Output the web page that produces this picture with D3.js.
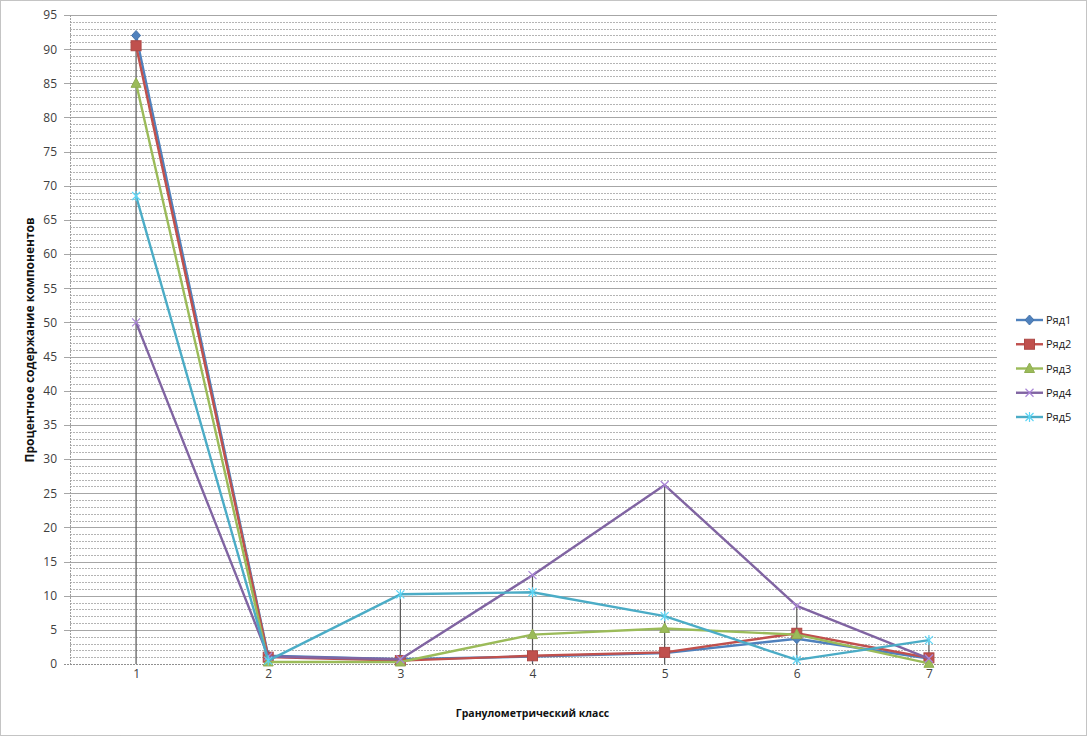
<!DOCTYPE html>
<html><head><meta charset="utf-8">
<script src="https://cdn.jsdelivr.net/npm/d3@7"></script>
<style>body{margin:0;background:#fff}svg{display:block}</style>
</head><body>
<svg id="c" width="1087" height="736"></svg>
<script>
const categories = [1, 2, 3, 4, 5, 6, 7];
const seriesNames = ["Ряд1", "Ряд2", "Ряд3", "Ряд4", "Ряд5"];
const ser1 = [92, 1.2, 0.7, 1.1, 1.6, 3.7, 0.8];
const ser2 = [90.5, 1.0, 0.5, 1.2, 1.7, 4.5, 0.9];
const ser3 = [85, 0.3, 0.3, 4.3, 5.2, 4.3, 0.1];
const ser4 = [50, 1.1, 0.7, 13, 26.2, 8.5, 0.8];
const ser5 = [68.5, 0.5, 10.2, 10.5, 7.0, 0.6, 3.5];
const yTicks = d3.range(0, 96, 5);
const xTitle = "Гранулометрический класс";
const yTitle = "Процентное содержание компонентов";

(function () {
const allSeries = [ser1, ser2, ser3, ser4, ser5];
const colors = ["#4F81BD", "#C0504D", "#9BBB59", "#8064A2", "#4BACC6"];
const markers = ["diamond", "square", "triangle", "x", "star"];

const svg = d3.select("#c");
const W = 1087, H = 736;
const pl = 70, pr = 995, pt = 15, pb = 664;

svg.append("rect").attr("x", 0.5).attr("y", 0.5).attr("width", W - 1).attr("height", H - 1)
  .attr("fill", "#fff").attr("stroke", "#888").attr("stroke-dasharray", "1,1");

const x = d3.scalePoint().domain(categories).range([pl, pr]).padding(0.5);
const y = d3.scaleLinear().domain([0, 95]).range([pb, pt]);

const g = svg.append("g");
d3.range(0, 96, 1).filter(v => v % 5 !== 0).forEach(v => {
  g.append("line").attr("x1", pl).attr("x2", pr + 2).attr("y1", Math.round(y(v)) + 0.5).attr("y2", Math.round(y(v)) + 0.5)
    .attr("stroke", "#b4b4b4").attr("stroke-width", 1).attr("stroke-dasharray", "2,1");
});
yTicks.forEach(v => {
  g.append("line").attr("x1", pl - 6).attr("x2", pr + 2).attr("y1", Math.round(y(v)) + 0.5).attr("y2", Math.round(y(v)) + 0.5)
    .attr("stroke", v === 0 ? "#909090" : "#a6a6a6").attr("stroke-width", 1)
    .attr("stroke-dasharray", v === 0 ? "2,1" : null);
});
g.append("line").attr("x1", pl + 0.5).attr("x2", pl + 0.5).attr("y1", pt).attr("y2", pb)
  .attr("stroke", "#a0a0a0").attr("stroke-dasharray", "2,1");

const yAxis = d3.axisLeft(y).tickValues(yTicks).tickSize(0).tickPadding(0);
const ya = svg.append("g").attr("transform", `translate(${pl - 13},0)`).call(yAxis);
ya.select(".domain").remove();
ya.selectAll("text").attr("font-family", "Open Sans, Liberation Sans, sans-serif").attr("font-size", 12).attr("fill", "#404040");

const xAxis = d3.axisBottom(x).tickSize(0).tickPadding(0);
const xa = svg.append("g").attr("transform", `translate(0,${pb + 5})`).call(xAxis);
xa.select(".domain").remove();
xa.selectAll("text").attr("font-family", "Open Sans, Liberation Sans, sans-serif").attr("font-size", 12).attr("fill", "#404040");

categories.forEach((c, i) => {
  const mx = d3.max(allSeries, s => s[i]);
  svg.append("line").attr("x1", x(c)).attr("x2", x(c)).attr("y1", y(mx)).attr("y2", y(0))
    .attr("stroke", "#555").attr("stroke-width", 1.2);
});

function drawMarker(sel, type, color, cx, cy) {
  if (type === "diamond") {
    sel.append("path").attr("d", `M${cx},${cy-5}L${cx+4.5},${cy}L${cx},${cy+5}L${cx-4.5},${cy}Z`).attr("fill", color).attr("stroke", d3.color(color).darker(0.3));
  } else if (type === "square") {
    sel.append("rect").attr("x", cx - 5).attr("y", cy - 5).attr("width", 10).attr("height", 10).attr("fill", color).attr("stroke", d3.color(color).darker(0.3));
  } else if (type === "triangle") {
    sel.append("path").attr("d", `M${cx},${cy-5.5}L${cx+5},${cy+4}L${cx-5},${cy+4}Z`).attr("fill", color).attr("stroke", d3.color(color).darker(0.2));
  } else if (type === "x") {
    const c2 = d3.color(color).brighter(0.8);
    sel.append("path").attr("d", `M${cx-4},${cy-4}L${cx+4},${cy+4}M${cx-4},${cy+4}L${cx+4},${cy-4}`).attr("stroke", c2).attr("stroke-width", 1.2);
  } else if (type === "star") {
    const c2 = d3.color(color).brighter(0.6);
    sel.append("path").attr("d", `M${cx-4},${cy-4}L${cx+4},${cy+4}M${cx-4},${cy+4}L${cx+4},${cy-4}M${cx},${cy-5}L${cx},${cy+5}`).attr("stroke", c2).attr("stroke-width", 1.2);
  }
}

const line = d3.line().x((d, i) => x(categories[i])).y(d => y(d));
allSeries.forEach((s, k) => {
  const gs = svg.append("g");
  gs.append("path").datum(s).attr("d", line).attr("fill", "none").attr("stroke", colors[k]).attr("stroke-width", 2.4).attr("stroke-linejoin", "round");
  s.forEach((v, i) => drawMarker(gs, markers[k], colors[k], x(categories[i]), y(v)));
});

const lgY = d3.scalePoint().domain(seriesNames).range([320, 417]);
seriesNames.forEach((n, k) => {
  const yy = lgY(n);
  svg.append("line").attr("x1", 1016).attr("x2", 1043).attr("y1", yy).attr("y2", yy).attr("stroke", colors[k]).attr("stroke-width", 2.4);
  drawMarker(svg, markers[k], colors[k], 1029.5, yy);
  svg.append("text").attr("x", 1046).attr("y", yy + 4).text(n)
    .attr("font-family", "Open Sans, Liberation Sans, sans-serif").attr("font-size", 11).attr("fill", "#202020");
});

svg.append("text").attr("x", x(4)).attr("y", 717).attr("text-anchor", "middle").text(xTitle)
  .attr("font-family", "Open Sans, Liberation Sans, sans-serif").attr("font-size", 10.5).attr("font-weight", "bold").attr("fill", "#111");
svg.append("text").attr("transform", `translate(34,340) rotate(-90)`).attr("text-anchor", "middle").text(yTitle)
  .attr("font-family", "Open Sans, Liberation Sans, sans-serif").attr("font-size", 12).attr("font-weight", "bold").attr("fill", "#111");
})();
</script>
</body></html>
